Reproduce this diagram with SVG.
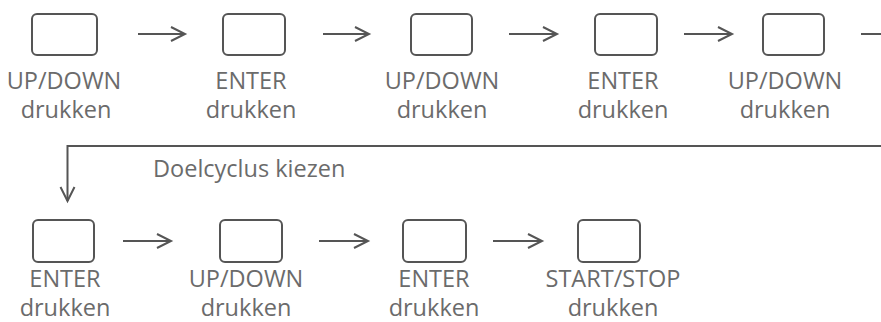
<svg xmlns="http://www.w3.org/2000/svg" width="881" height="322" viewBox="0 0 881 322">
<style>
.box{fill:#fff;stroke:#555;stroke-width:2}
.lbl{font-family:"Open Sans","Noto Sans",sans-serif;font-size:23.5px;fill:#6b6b6b;text-anchor:middle}
.note{font-family:"Open Sans","Noto Sans",sans-serif;font-size:23.5px;fill:#6b6b6b}
.con{fill:none;stroke:#555;stroke-width:2}
</style>
<defs>
<marker id="arr" markerUnits="userSpaceOnUse" markerWidth="20" markerHeight="20" viewBox="-16 -10 20 20" refX="0" refY="0" orient="auto">
<path d="M-14,-7 L0,0 L-14,7" fill="none" stroke="#555" stroke-width="2"/>
</marker>
</defs>
<rect width="881" height="322" fill="#fff"/>
<g id="connectors">
<line class="con" x1="138" y1="34" x2="185" y2="34" marker-end="url(#arr)"/>
<line class="con" x1="323" y1="34" x2="369" y2="34" marker-end="url(#arr)"/>
<line class="con" x1="509" y1="34" x2="557" y2="34" marker-end="url(#arr)"/>
<line class="con" x1="684" y1="34" x2="732" y2="34" marker-end="url(#arr)"/>
<line class="con" x1="861" y1="34" x2="909" y2="34" marker-end="url(#arr)"/>
<path class="con" d="M890,146 H67.5 V201" marker-end="url(#arr)"/>
<line class="con" x1="123" y1="241" x2="171" y2="241" marker-end="url(#arr)"/>
<line class="con" x1="319" y1="241" x2="368" y2="241" marker-end="url(#arr)"/>
<line class="con" x1="493" y1="241" x2="542" y2="241" marker-end="url(#arr)"/>
<text class="note" x="153" y="177">Doelcyclus kiezen</text>
</g>
<g id="n1"><rect class="box" x="32" y="14" width="65" height="41" rx="5"/><text class="lbl" x="64" y="89">UP/DOWN</text><text class="lbl" x="66" y="118">drukken</text></g>
<g id="n2"><rect class="box" x="223" y="14" width="62" height="41" rx="5"/><text class="lbl" x="251" y="89">ENTER</text><text class="lbl" x="251" y="118">drukken</text></g>
<g id="n3"><rect class="box" x="411" y="14" width="61" height="41" rx="5"/><text class="lbl" x="442" y="89">UP/DOWN</text><text class="lbl" x="442" y="118">drukken</text></g>
<g id="n4"><rect class="box" x="595" y="14" width="62" height="41" rx="5"/><text class="lbl" x="623" y="89">ENTER</text><text class="lbl" x="623" y="118">drukken</text></g>
<g id="n5"><rect class="box" x="763" y="14" width="61" height="41" rx="5"/><text class="lbl" x="785" y="89">UP/DOWN</text><text class="lbl" x="785" y="118">drukken</text></g>
<g id="n6"><rect class="box" x="33" y="220" width="61" height="42" rx="5"/><text class="lbl" x="65" y="287">ENTER</text><text class="lbl" x="65" y="316">drukken</text></g>
<g id="n7"><rect class="box" x="220" y="220" width="62" height="42" rx="5"/><text class="lbl" x="246" y="287">UP/DOWN</text><text class="lbl" x="246" y="316">drukken</text></g>
<g id="n8"><rect class="box" x="403" y="220" width="63" height="42" rx="5"/><text class="lbl" x="434" y="287">ENTER</text><text class="lbl" x="434" y="316">drukken</text></g>
<g id="n9"><rect class="box" x="578" y="220" width="62" height="42" rx="5"/><text class="lbl" x="613" y="287">START/STOP</text><text class="lbl" x="613" y="316">drukken</text></g>
</svg>
